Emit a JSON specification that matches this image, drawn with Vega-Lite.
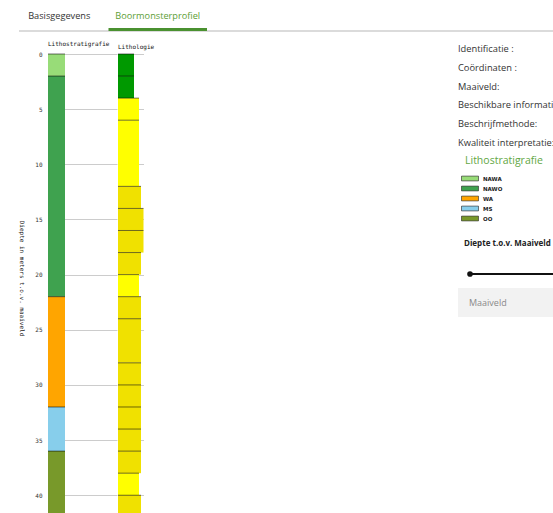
{
  "$schema": "https://vega.github.io/schema/vega-lite/v6.json",
  "padding": {"left": 10, "top": 0, "right": 0, "bottom": 0},
  "background": "white",
  "config": {"view": {"stroke": null}, "font": "Open Sans"},
  "datasets": {
    "tabs": [
      {"tab": "Basisgegevens", "actief": 0},
      {"tab": "Boormonsterprofiel", "actief": 1}
    ],
    "lithostratigrafie": [
      {"kolom": "Lithostratigrafie", "van": 0, "tot": 2, "eenheid": "NAWA"},
      {"kolom": "Lithostratigrafie", "van": 2, "tot": 22, "eenheid": "NAWO"},
      {"kolom": "Lithostratigrafie", "van": 22, "tot": 32, "eenheid": "WA"},
      {"kolom": "Lithostratigrafie", "van": 32, "tot": 36, "eenheid": "MS"},
      {"kolom": "Lithostratigrafie", "van": 36, "tot": 42, "eenheid": "OO"}
    ],
    "lithologie": [
      {"van": 0, "tot": 2, "lithologie": "klei", "korrelklasse": 1},
      {"van": 2, "tot": 4, "lithologie": "klei", "korrelklasse": 1},
      {"van": 4, "tot": 6, "lithologie": "zand fijn", "korrelklasse": 2},
      {"van": 6, "tot": 12, "lithologie": "zand fijn", "korrelklasse": 2},
      {"van": 12, "tot": 14, "lithologie": "zand matig fijn", "korrelklasse": 3},
      {"van": 14, "tot": 16, "lithologie": "zand matig grof", "korrelklasse": 4},
      {"van": 16, "tot": 18, "lithologie": "zand matig grof", "korrelklasse": 4},
      {"van": 18, "tot": 20, "lithologie": "zand matig fijn", "korrelklasse": 3},
      {"van": 20, "tot": 22, "lithologie": "zand fijn", "korrelklasse": 2},
      {"van": 22, "tot": 24, "lithologie": "zand matig fijn", "korrelklasse": 3},
      {"van": 24, "tot": 28, "lithologie": "zand matig fijn", "korrelklasse": 3},
      {"van": 28, "tot": 30, "lithologie": "zand matig fijn", "korrelklasse": 3},
      {"van": 30, "tot": 32, "lithologie": "zand matig fijn", "korrelklasse": 3},
      {"van": 32, "tot": 34, "lithologie": "zand matig fijn", "korrelklasse": 3},
      {"van": 34, "tot": 36, "lithologie": "zand matig fijn", "korrelklasse": 3},
      {"van": 36, "tot": 38, "lithologie": "zand matig fijn", "korrelklasse": 3},
      {"van": 38, "tot": 40, "lithologie": "zand fijn", "korrelklasse": 2},
      {"van": 40, "tot": 42, "lithologie": "zand matig fijn", "korrelklasse": 3}
    ],
    "info": [
      {"label": "Identificatie :"},
      {"label": "Coördinaten :"},
      {"label": "Maaiveld:"},
      {"label": "Beschikbare informatie:"},
      {"label": "Beschrijfmethode:"},
      {"label": "Kwaliteit interpretatie:"}
    ],
    "diepte": [{"huidig": 0, "max": 41.7}],
    "invoer": [{"tekst": "Maaiveld", "pos": 0}]
  },
  "spacing": 9,
  "vconcat": [
    {
      "data": {"name": "tabs"},
      "width": 505,
      "height": 31,
      "resolve": {"scale": {"x": "independent"}, "axis": {"x": "independent"}},
      "layer": [
        {
          "mark": {"type": "rule", "color": "#cfcfcf", "strokeWidth": 1},
          "encoding": {
            "x": {"datum": 0, "type": "quantitative", "scale": {"domain": [0, 1], "range": [-29, 505]}, "axis": null},
            "x2": {"datum": 1},
            "y": {"datum": 0, "type": "quantitative", "scale": {"domain": [0, 10]}, "axis": null}
          }
        },
        {
          "mark": {"type": "bar", "color": "#4a9130"},
          "encoding": {
            "x": {
              "field": "tab", "type": "nominal", "sort": null,
              "scale": {"domain": ["Basisgegevens", "Boormonsterprofiel"], "range": [-38, 159], "paddingInner": 0, "paddingOuter": 0},
              "axis": {
                "orient": "bottom", "title": null, "ticks": false, "tickSize": 0, "grid": false,
                "domain": false,
                "labelAngle": 0, "labelFont": "Open Sans", "labelFontSize": 9.2,
                "labelBaseline": "middle", "labelPadding": -16,
                "labelColor": {"condition": {"test": "datum.value === 'Boormonsterprofiel'", "value": "#5c9e34"}, "value": "#333333"}
              }
            },
            "y": {"field": "actief", "type": "quantitative"}
          }
        }
      ]
    },
    {
      "spacing": 297,
      "hconcat": [
        {
          "spacing": 0,
          "hconcat": [
            {
              "width": 69,
              "height": 460,
              "title": {"text": "Lithostratigrafie", "anchor": "start", "frame": "group", "font": "DejaVu Sans Mono", "fontSize": 6, "fontWeight": "normal", "color": "#111111", "offset": 4},
              "data": {"name": "lithostratigrafie"},
              "encoding": {
                "x": {"datum": 0, "type": "quantitative", "scale": {"domain": [0, 4.0588], "nice": false, "zero": false}, "axis": null},
                "x2": {"datum": 1},
                "y": {
                  "field": "van", "type": "quantitative",
                  "scale": {"domain": [0, 41.7], "reverse": true, "nice": false},
                  "axis": {
                    "title": "Diepte in meters t.o.v. maaiveld",
                    "values": [0, 5, 10, 15, 20, 25, 30, 35, 40],
                    "labelFont": "DejaVu Sans Mono", "labelFontSize": 6, "labelColor": "#333333",
                    "ticks": false, "tickSize": 0, "domain": false, "labelPadding": 6,
                    "grid": true, "gridColor": "#cccccc",
                    "titleFont": "DejaVu Sans Mono", "titleFontSize": 6, "titleFontWeight": "normal", "titleColor": "#222222",
                    "titleAngle": 90, "titleX": -27, "titleY": 224, "titleAlign": "center", "titleBaseline": "middle"
                  }
                }
              },
              "layer": [
                {
                  "mark": {"type": "rect", "clip": true},
                  "encoding": {
                    "y2": {"field": "tot"},
                    "color": {
                      "field": "eenheid", "type": "nominal",
                      "scale": {"domain": ["NAWA", "NAWO", "WA", "MS", "OO"], "range": ["#98dc78", "#3fa24f", "#ffa500", "#87ceeb", "#78992a"]},
                      "legend": {
                        "orient": "none", "legendX": 417, "legendY": 156, "direction": "vertical", "padding": 0,
                        "title": "Lithostratigrafie", "titleFont": "Open Sans", "titleFontSize": 10.5, "titleFontWeight": "normal", "titleColor": "#62a744", "titlePadding": 7,
                        "symbolType": "M-2,-0.566H2V0.566H-2Z", "symbolSize": 72, "symbolStrokeColor": "#222222", "symbolStrokeWidth": 0.6, "symbolOpacity": 1,
                        "labelFont": "DejaVu Sans", "labelFontSize": 5.5, "labelFontWeight": "bold", "labelColor": "#222222", "labelOffset": 8, "rowPadding": 1
                      }
                    }
                  }
                },
                {
                  "mark": {"type": "rule", "color": "#000000", "opacity": 0.55, "strokeWidth": 1},
                  "encoding": {}
                }
              ]
            },
            {
              "width": 43,
              "height": 460,
              "title": {"text": "Lithologie", "anchor": "start", "frame": "group", "font": "DejaVu Sans Mono", "fontSize": 6, "fontWeight": "normal", "color": "#111111", "offset": 4},
              "data": {"name": "lithologie"},
              "layer": [
                {
                  "mark": {"type": "rect", "clip": true},
                  "encoding": {
                    "y": {
                      "field": "van", "type": "quantitative",
                      "scale": {"domain": [0, 41.7], "reverse": true, "nice": false},
                      "axis": {"title": null, "values": [0, 5, 10, 15, 20, 25, 30, 35, 40], "labels": false, "ticks": false, "domain": false, "grid": true, "gridColor": "#cccccc", "minExtent": 0}
                    },
                    "y2": {"field": "tot"},
                    "x": {"field": "korrelklasse", "type": "quantitative", "scale": {"domain": [0, 1, 2, 3, 4], "range": [0, 16, 21, 23, 25.5], "nice": false, "zero": false}, "axis": null},
                    "x2": {"datum": 0},
                    "fill": {
                      "field": "lithologie", "type": "nominal",
                      "scale": {"domain": ["klei", "zand fijn", "zand matig fijn", "zand matig grof"], "range": ["#009900", "#ffff00", "#f0e100", "#f0e100"]},
                      "legend": null
                    }
                  }
                },
                {
                  "mark": {"type": "rule", "color": "#000000", "opacity": 0.55, "strokeWidth": 1},
                  "encoding": {
                    "y": {"field": "van", "type": "quantitative"},
                    "x": {"field": "korrelklasse", "type": "quantitative"},
                    "x2": {"datum": 0}
                  }
                }
              ]
            }
          ]
        },
        {
          "spacing": 73,
          "vconcat": [
            {
              "width": 94,
              "height": 113,
              "data": {"name": "info"},
              "mark": {"type": "text", "align": "left", "baseline": "middle", "font": "Open Sans", "fontSize": 9.3, "color": "#333333", "limit": 97, "ellipsis": "\u200b"},
              "encoding": {
                "y": {"field": "label", "type": "ordinal", "sort": null, "axis": null, "scale": {"range": [-5, 89], "padding": 0}},
                "x": {"value": 0},
                "text": {"field": "label"}
              }
            },
            {
              "spacing": 4,
              "vconcat": [
                {
                  "width": 94,
                  "height": 20,
                  "title": {"text": "Diepte t.o.v. Maaiveld", "anchor": "start", "frame": "group", "font": "Open Sans", "fontSize": 8, "fontWeight": "bold", "color": "#222222", "dx": 6, "offset": 16},
                  "data": {"name": "diepte"},
                  "layer": [
                    {
                      "mark": {"type": "rule", "color": "#111111", "strokeWidth": 2},
                      "encoding": {
                        "x": {"field": "huidig", "type": "quantitative", "scale": {"domain": [0, 41.7], "range": [12, 96], "nice": false}, "axis": null},
                        "x2": {"field": "max"}
                      }
                    },
                    {
                      "mark": {"type": "point", "filled": true, "color": "#111111", "size": 32, "opacity": 1},
                      "encoding": {
                        "x": {"field": "huidig", "type": "quantitative"}
                      }
                    }
                  ]
                },
                {
                  "width": 96,
                  "height": 29,
                  "view": {"fill": "#f2f2f2", "stroke": null},
                  "data": {"name": "invoer"},
                  "mark": {"type": "text", "align": "left", "baseline": "middle", "font": "Open Sans", "fontSize": 9, "color": "#8a8a8a"},
                  "encoding": {
                    "text": {"field": "tekst"},
                    "x": {"field": "pos", "type": "quantitative", "scale": {"domain": [0, 1], "range": [11, 96]}, "axis": null}
                  }
                }
              ]
            }
          ]
        }
      ]
    }
  ]
}
